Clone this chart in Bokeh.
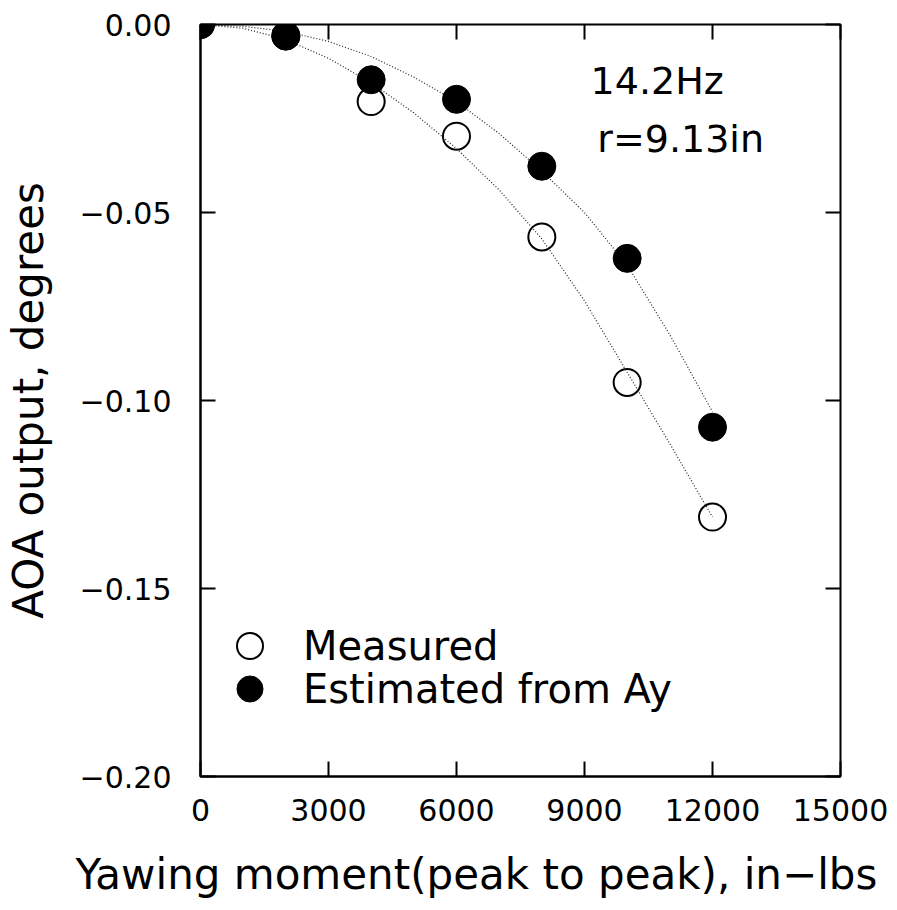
from bokeh.plotting import figure
from bokeh.models import (Range1d, FixedTicker, LinearAxis, Label, Legend, LegendItem,
                          Title, CustomLabelingPolicy)
from bokeh.embed import file_html
from bokeh.resources import INLINE

# ---- data ----
moment = [0, 2000, 4000, 6000, 8000, 10000, 12000]
measured = [0.0, -0.003, -0.0205, -0.0297, -0.0565, -0.0952, -0.131]
estimated = [0.0, -0.0031, -0.0147, -0.0199, -0.0377, -0.0622, -0.1071]

fit_moment = [0, 1000, 2000, 3000, 4000, 5000, 6000, 7000, 8000, 9000, 10000, 11000, 12000]
fit_measured = [0.0, -0.001, -0.004, -0.009, -0.0155, -0.0235, -0.033, -0.044, -0.057,
                -0.0735, -0.0925, -0.1115, -0.131]
fit_estimated = [0.0, -0.0005, -0.0018, -0.0045, -0.0085, -0.014, -0.0205, -0.029, -0.039,
                 -0.050, -0.064, -0.0825, -0.103]

x_ticks = [0, 3000, 6000, 9000, 12000, 15000]
x_tick_labels = ["0", "3000", "6000", "9000", "12000", "15000"]
y_ticks = [-0.2, -0.15, -0.1, -0.05, 0.0]
y_tick_labels = ["\u22120.20", "\u22120.15", "\u22120.10", "\u22120.05", "0.00"]

FONT = "DejaVu Sans"

p = figure(output_backend="svg", toolbar_location=None,
           frame_width=640, frame_height=752,
           min_border_left=200, min_border_right=55, min_border_top=24, min_border_bottom=130,
           x_range=Range1d(0, 15000), y_range=Range1d(-0.2, 0.0),
           background_fill_color="white", border_fill_color="white")
p.grid.visible = False
p.outline_line_color = "black"
p.outline_line_width = 2

# bottom axis
xa = p.xaxis[0]
xa.ticker = FixedTicker(ticks=x_ticks)
xa.major_label_overrides = {t: l for t, l in zip(x_ticks, x_tick_labels)}
xa.major_tick_in = 15
xa.major_tick_out = 0
xa.minor_tick_line_color = None
xa.major_tick_line_width = 2
xa.axis_line_width = 2
xa.major_label_standoff = 22
xa.major_label_text_font = FONT
xa.major_label_text_font_size = "30px"
xa.major_label_text_color = "black"

# left axis
ya = p.yaxis[0]
ya.ticker = FixedTicker(ticks=y_ticks)
ya.major_label_overrides = {t: l for t, l in zip(y_ticks, y_tick_labels)}
ya.major_tick_in = 15
ya.major_tick_out = 0
ya.minor_tick_line_color = None
ya.major_tick_line_width = 2
ya.axis_line_width = 2
ya.major_label_standoff = 29
ya.major_label_text_font = FONT
ya.major_label_text_font_size = "30px"
ya.major_label_text_color = "black"
ya.axis_label = "AOA output, degrees"
ya.axis_label_text_font = FONT
ya.axis_label_text_font_size = "42px"
ya.axis_label_text_font_style = "normal"
ya.axis_label_text_color = "black"
ya.axis_label_standoff = 24

# tick-only axes on top and right (labels suppressed)
no_labels = "for (const i of indices) indices.unset(i)"
top = LinearAxis(ticker=FixedTicker(ticks=x_ticks), major_tick_in=15, major_tick_out=0,
                 minor_tick_line_color=None, major_tick_line_width=2, axis_line_color=None,
                 major_label_policy=CustomLabelingPolicy(code=no_labels), major_label_standoff=0)
right = LinearAxis(ticker=FixedTicker(ticks=y_ticks), major_tick_in=15, major_tick_out=0,
                   minor_tick_line_color=None, major_tick_line_width=2, axis_line_color=None,
                   major_label_policy=CustomLabelingPolicy(code=no_labels), major_label_standoff=0)
p.add_layout(top, "above")
p.add_layout(right, "right")

# x axis title, below the tick labels
p.add_layout(Title(text="Yawing moment(peak to peak), in\u2212lbs", align="left", offset=-125,
                   text_font=FONT, text_font_size="42px", text_font_style="normal",
                   text_color="black", standoff=49), "below")

# data
r_meas = p.scatter(moment, measured, size=27, marker="circle",
                   fill_color=None, line_color="black", line_width=2)
p.line(fit_moment, fit_measured, line_color="#222222", line_width=1.2, line_dash="1 2")
p.line(fit_moment, fit_estimated, line_color="#222222", line_width=1.2, line_dash="1 2")
r_est = p.scatter(moment, estimated, size=28, marker="circle",
                  fill_color="black", line_color="black", line_width=1)

# legends (one per row)
leg1 = Legend(items=[LegendItem(label="Measured", renderers=[r_meas])],
              location=(17, 98), glyph_width=65, glyph_height=65, padding=0, margin=0,
              label_standoff=21, label_text_font=FONT, label_text_font_size="40px",
              background_fill_alpha=0, border_line_color=None, label_text_color="black")
leg2 = Legend(items=[LegendItem(label="Estimated from Ay", renderers=[r_est])],
              location=(17, 55), glyph_width=65, glyph_height=65, padding=0, margin=0,
              label_standoff=21, label_text_font=FONT, label_text_font_size="40px",
              background_fill_alpha=0, border_line_color=None, label_text_color="black")
p.add_layout(leg1)
p.add_layout(leg2)

# annotations
p.add_layout(Label(x=9143, y=-0.0151, text="14.2Hz", text_font=FONT, text_font_size="38px",
                   text_baseline="alphabetic", text_color="black"))
p.add_layout(Label(x=9300, y=-0.0305, text="r=9.13in", text_font=FONT, text_font_size="38px",
                   text_baseline="alphabetic", text_color="black"))

open("out.html", "w").write(file_html(p, INLINE))
